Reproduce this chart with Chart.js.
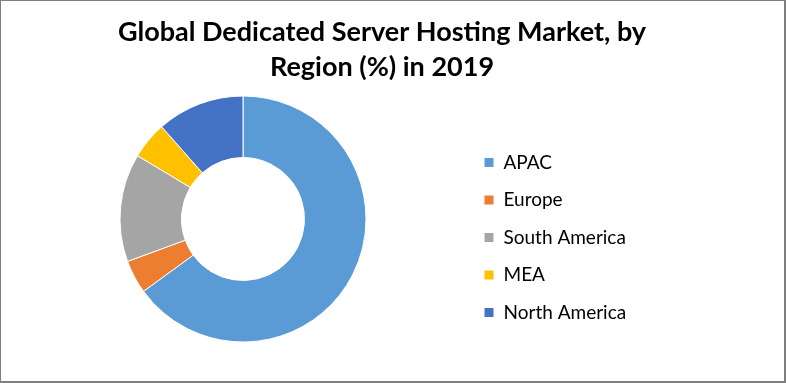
<!DOCTYPE html>
<html>
<head>
<meta charset="utf-8">
<script src="https://cdn.jsdelivr.net/npm/chart.js@4/dist/chart.umd.min.js"></script>
<style>
  html, body { margin: 0; padding: 0; background: #fff; }
  #wrap { position: relative; width: 786px; height: 383px; }
  canvas { display: block; }
</style>
</head>
<body>
<div id="wrap"><canvas id="c" width="786" height="383"></canvas></div>
<script>
const titleLines = ["Global Dedicated Server Hosting Market, by", "Region (%) in 2019"];
const regions = ["APAC", "Europe", "South America", "MEA", "North America"];
const shares = [65.0, 4.4, 14.2, 4.9, 11.5];
const sliceColors = ["#5B9BD5", "#ED7D31", "#A5A5A5", "#FFC000", "#4472C4"];

const frame = {
  id: 'frame',
  beforeDraw(chart) {
    const ctx = chart.ctx;
    ctx.save();
    ctx.fillStyle = '#ffffff';
    ctx.fillRect(0, 0, chart.width, chart.height);
    ctx.restore();
  },
  afterDraw(chart) {
    const ctx = chart.ctx, w = chart.width, h = chart.height;
    ctx.save();
    ctx.fillStyle = '#7f7f7f';
    ctx.fillRect(0, 0, w, 1);
    ctx.fillRect(0, 0, 1, h);
    ctx.fillRect(w - 2, 0, 2, h);
    ctx.fillRect(0, h - 2, w, 2);
    ctx.restore();
  }
};

const legendWidth = {
  id: 'legendWidth',
  beforeLayout(chart) {
    const lg = chart.legend;
    if (lg && !lg._patched) {
      const orig = lg.fit;
      lg.fit = function () { orig.call(this); this.width = 278; };
      lg._patched = true;
    }
  }
};

new Chart(document.getElementById('c'), {
  type: 'doughnut',
  data: {
    labels: regions,
    datasets: [{
      data: shares,
      backgroundColor: sliceColors,
      borderColor: '#ffffff',
      borderWidth: 1,
      hoverOffset: 0
    }]
  },
  plugins: [frame, legendWidth],
  options: {
    responsive: false,
    animation: false,
    cutout: '50%',
    layout: { padding: { left: 20.5, right: 42.5, top: 0, bottom: 40.5 } },
    plugins: {
      tooltip: { enabled: false },
      title: {
        display: true,
        text: titleLines,
        color: '#000000',
        font: { family: 'Lato', weight: 'bold', size: 27, lineHeight: 35 / 27 },
        padding: { top: 15, bottom: 10.5 }
      },
      legend: {
        display: true,
        position: 'right',
        align: 'start',
        fullSize: false,
        title: { display: true, text: '', font: { size: 10, lineHeight: 1 }, padding: { top: 29, bottom: 0 } },
        labels: {
          color: '#000000',
          font: { family: 'Lato', size: 19 },
          boxWidth: 10,
          boxHeight: 10,
          padding: 18.5
        }
      }
    }
  }
});
</script>
</body>
</html>
